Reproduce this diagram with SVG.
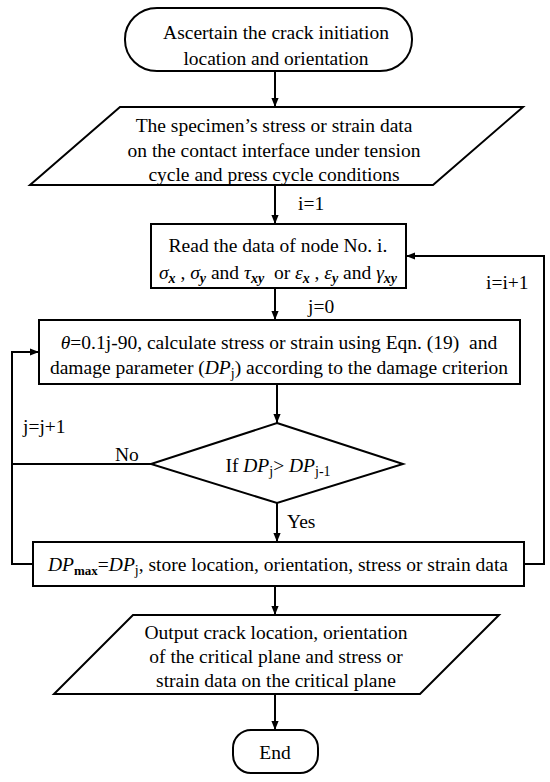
<svg xmlns="http://www.w3.org/2000/svg" width="550" height="782" viewBox="0 0 550 782">
<defs>
<marker id="ah" viewBox="0 0 10 10" refX="10" refY="5" markerWidth="9" markerHeight="9" markerUnits="userSpaceOnUse" orient="auto">
<path d="M0,1 L10,5 L0,9 Z" fill="#000"/>
</marker>
<style>
.s{fill:#fff;stroke:#000;stroke-width:2}
.c{fill:none;stroke:#000;stroke-width:2}
text{font-family:"Liberation Serif","Times New Roman",serif;font-size:19.5px;fill:#000;white-space:pre}
.m{text-anchor:middle}
.i{font-style:italic}
.b{font-weight:bold}
</style>
</defs>
<rect width="550" height="782" fill="#fff"/>
<g id="start">
<rect class="s" x="125" y="8" width="287" height="63" rx="32" ry="31"/>
<text class="m" x="276" y="39">Ascertain the crack initiation</text>
<text class="m" x="276" y="65">location and orientation</text>
</g>
<g id="input">
<polygon class="s" points="120,107 523,107 433,185 30,185"/>
<text class="m" x="274" y="132">The specimen’s stress or strain data</text>
<text class="m" x="274" y="157">on the contact interface under tension</text>
<text class="m" x="274" y="181">cycle and press cycle conditions</text>
</g>
<g id="read">
<rect class="s" x="151" y="224" width="255" height="64"/>
<text class="m" x="278" y="252">Read the data of node No. i.</text>
<text class="m" x="278" y="279" xml:space="preserve"><tspan class="i">σ</tspan><tspan class="i b" font-size="14" dy="4">x</tspan><tspan dy="-4"> , </tspan><tspan class="i">σ</tspan><tspan class="i b" font-size="14" dy="4">y</tspan><tspan dy="-4"> and </tspan><tspan class="i">τ</tspan><tspan class="i b" font-size="14" dy="4">xy</tspan><tspan dy="-4">  or </tspan><tspan class="i">ε</tspan><tspan class="i b" font-size="14" dy="4">x</tspan><tspan dy="-4"> , </tspan><tspan class="i">ε</tspan><tspan class="i b" font-size="14" dy="4">y</tspan><tspan dy="-4"> and </tspan><tspan class="i">γ</tspan><tspan class="i b" font-size="14" dy="4">xy</tspan></text>
</g>
<g id="calc">
<rect class="s" x="39" y="320" width="481" height="64"/>
<text class="m" x="279" y="349" xml:space="preserve"><tspan class="i">θ</tspan>=0.1j-90, calculate stress or strain using Eqn. (19)  and</text>
<text class="m" x="279" y="374">damage parameter (<tspan class="i">DP</tspan><tspan font-size="14" dy="4">j</tspan><tspan dy="-4">) according to the damage criterion</tspan></text>
</g>
<g id="decision">
<polygon class="s" points="277,423 403,464 277,503 151,464"/>
<text class="m" x="278" y="472">If <tspan class="i">DP</tspan><tspan font-size="14" dy="4">j</tspan><tspan dy="-4">&gt; </tspan><tspan class="i">DP</tspan><tspan font-size="14" dy="4">j-1</tspan></text>
</g>
<g id="store">
<rect class="s" x="33" y="542" width="491" height="44"/>
<text class="m" x="278" y="571"><tspan class="i">DP</tspan><tspan class="b" font-size="13" dy="4">max</tspan><tspan dy="-4">=</tspan><tspan class="i">DP</tspan><tspan font-size="14" dy="4">j</tspan><tspan dy="-4">, store location, orientation, stress or strain data</tspan></text>
</g>
<g id="output">
<polygon class="s" points="133,615 499,615 420,694 54,694"/>
<text class="m" x="276" y="639">Output crack location, orientation</text>
<text class="m" x="276" y="663">of the critical plane and stress or</text>
<text class="m" x="276" y="687">strain data on the critical plane</text>
</g>
<g id="end">
<rect class="s" x="233" y="730" width="85" height="43" rx="18" ry="18"/>
<text class="m" x="275" y="759">End</text>
</g>
<g id="connectors">
<line class="c" x1="275" y1="71" x2="275" y2="107" marker-end="url(#ah)"/>
<line class="c" x1="275" y1="185" x2="275" y2="224" marker-end="url(#ah)"/>
<line class="c" x1="275" y1="288" x2="275" y2="320" marker-end="url(#ah)"/>
<line class="c" x1="277" y1="384" x2="277" y2="423" marker-end="url(#ah)"/>
<line class="c" x1="277" y1="503" x2="277" y2="542" marker-end="url(#ah)"/>
<line class="c" x1="275" y1="586" x2="275" y2="615" marker-end="url(#ah)"/>
<line class="c" x1="275" y1="694" x2="275" y2="730" marker-end="url(#ah)"/>
<polyline class="c" points="524,564 544,564 544,256 406,256" marker-end="url(#ah)"/>
<polyline class="c" points="33,564 12,564 12,352 39,352" marker-end="url(#ah)"/>
<line class="c" x1="151" y1="464" x2="12" y2="464"/>
<text x="298" y="210">i=1</text>
<text x="308" y="313">j=0</text>
<text x="486" y="289">i=i+1</text>
<text x="23" y="433">j=j+1</text>
<text x="115" y="461">No</text>
<text x="287" y="528">Yes</text>
</g>
</svg>
